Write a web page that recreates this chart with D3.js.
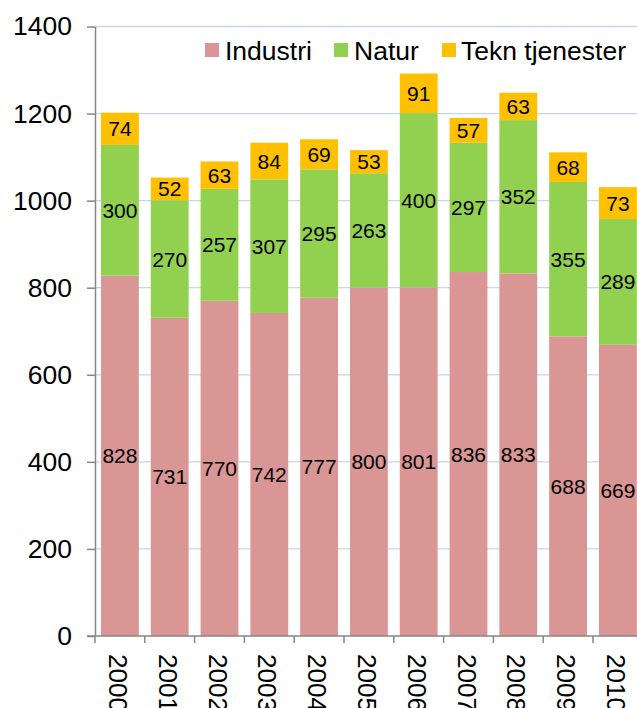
<!DOCTYPE html>
<html>
<head>
<meta charset="utf-8">
<script src="https://cdn.jsdelivr.net/npm/d3@7"></script>
<style>
  html, body { margin: 0; padding: 0; background: #fff; overflow: hidden; }
  svg { display: block; font-family: "Liberation Sans", Arial, sans-serif; }
</style>
</head>
<body>
<script>
// Years on the category axis
const years = ["2000", "2001", "2002", "2003", "2004", "2005", "2006", "2007", "2008", "2009", "2010"];
// Stacked series values, bottom to top
const industri = [828, 731, 770, 742, 777, 800, 801, 836, 833, 688, 669];
const natur = [300, 270, 257, 307, 295, 263, 400, 297, 352, 355, 289];
const tekn = [74, 52, 63, 84, 69, 53, 91, 57, 63, 68, 73];
const seriesNames = ["Industri", "Natur", "Tekn tjenester"];
const seriesColors = ["#D99694", "#92D050", "#FFC000"];
const yTicks = [0, 200, 400, 600, 800, 1000, 1200, 1400];

const W = 637, H = 708;
const FONT = "'Liberation Sans', Arial, sans-serif";
const svg = d3.select("body").append("svg").attr("width", W).attr("height", H);

const rows = years.map((y, i) => ({ year: y, Industri: industri[i], Natur: natur[i], "Tekn tjenester": tekn[i] }));
const stacked = d3.stack().keys(seriesNames)(rows);

const x = d3.scaleBand().domain(years).range([95, 642.8]).paddingInner(0.24).paddingOuter(0.12);
const y = d3.scaleLinear().domain([0, 1400]).range([636, 26.5]);
const color = d3.scaleOrdinal().domain(seriesNames).range(seriesColors);

// Horizontal gridlines
svg.append("g").selectAll("line").data(yTicks.filter(d => d > 0)).join("line")
  .attr("x1", 95).attr("x2", W)
  .attr("y1", d => y(d)).attr("y2", d => y(d))
  .attr("stroke", "#C6D6EE").attr("stroke-width", 1.3);

// Stacked bars
const layers = svg.append("g").selectAll("g").data(stacked).join("g")
  .attr("fill", d => color(d.key));
layers.selectAll("rect").data(d => d).join("rect")
  .attr("x", d => x(d.data.year))
  .attr("width", x.bandwidth())
  .attr("y", d => y(d[1]))
  .attr("height", d => y(d[0]) - y(d[1]));

// Value labels centred in each segment
const labelLayers = svg.append("g").selectAll("g").data(stacked).join("g");
labelLayers.selectAll("text").data(d => d.map(s => ({ s, key: d.key }))).join("text")
  .attr("x", d => x(d.s.data.year) + x.bandwidth() / 2)
  .attr("y", d => y((d.s[0] + d.s[1]) / 2))
  .attr("dy", "0.36em")
  .attr("text-anchor", "middle")
  .attr("font-size", 21)
  .attr("font-family", FONT)
  .attr("fill", "#000")
  .text(d => d.s.data[d.key]);

// Y axis
const yAxis = d3.axisLeft(y).tickValues(yTicks).tickFormat(d3.format("d"))
  .tickSize(8).tickPadding(15).tickSizeOuter(0);
const gy = svg.append("g").attr("transform", "translate(95,0)").call(yAxis);
gy.select(".domain").attr("stroke", "#868686").attr("stroke-width", 1.5);
gy.selectAll(".tick line").attr("stroke", "#868686").attr("stroke-width", 1.5);
gy.selectAll(".tick text").attr("font-size", 26.5).attr("fill", "#000")
  .attr("font-family", FONT);

// X axis: baseline with ticks at category boundaries
const step = x.step();
const boundaries = years.map(yr => x(yr) - x.paddingInner() * step / 2);
boundaries.push(boundaries[boundaries.length - 1] + step);
svg.append("line").attr("x1", 87).attr("x2", W).attr("y1", 636).attr("y2", 636)
  .attr("stroke", "#868686").attr("stroke-width", 1.5);
svg.append("g").selectAll("line").data(boundaries).join("line")
  .attr("x1", d => d).attr("x2", d => d).attr("y1", 636).attr("y2", 643)
  .attr("stroke", "#868686").attr("stroke-width", 1.5);

// Rotated year labels
svg.append("g").selectAll("text").data(years).join("text")
  .attr("transform", d => `translate(${x(d) + x.bandwidth() / 2 - 11},654) rotate(90)`)
  .attr("text-anchor", "start")
  .attr("font-size", 26)
  .attr("font-family", FONT)
  .attr("fill", "#000")
  .text(d => d);

// Legend
const legendPos = [{ sx: 205, tx: 225 }, { sx: 334, tx: 354 }, { sx: 442, tx: 461 }];
const legend = svg.append("g").selectAll("g").data(seriesNames).join("g");
legend.append("rect")
  .attr("x", (d, i) => legendPos[i].sx).attr("y", 43)
  .attr("width", 14).attr("height", 14)
  .attr("fill", d => color(d));
legend.append("text")
  .attr("x", (d, i) => legendPos[i].tx).attr("y", 60)
  .attr("font-size", 26.5)
  .attr("font-family", FONT)
  .attr("fill", "#000")
  .text(d => d);
</script>
</body>
</html>
